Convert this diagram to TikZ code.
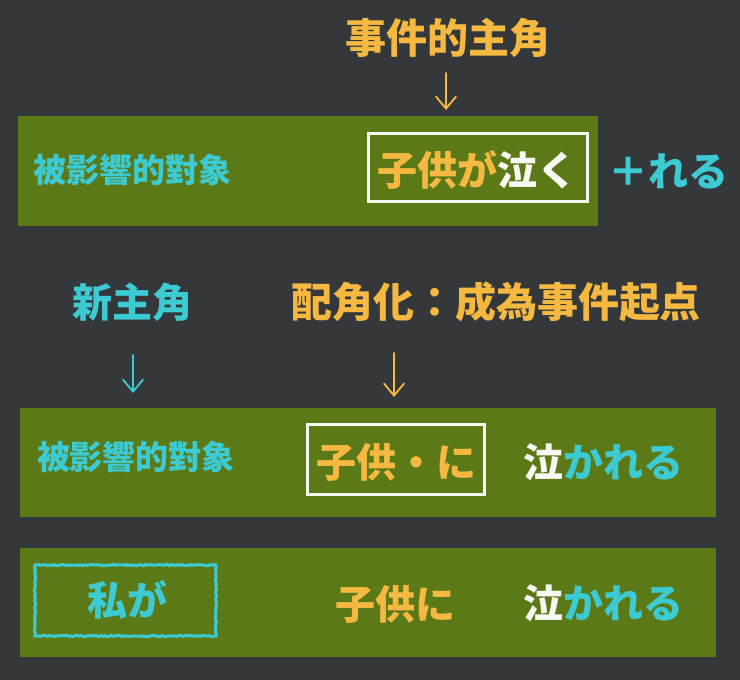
\documentclass[tikz,border=0pt]{standalone}
\usepackage{fontspec}
\setmainfont{Noto Sans CJK JP}
\usetikzlibrary{arrows.meta,decorations.pathmorphing}
\definecolor{bgc}{HTML}{34383B}
\definecolor{panelc}{HTML}{5B7A17}
\definecolor{cyanc}{HTML}{3CCBD3}
\definecolor{orangec}{HTML}{F5B942}
\definecolor{whitec}{HTML}{F8F8F2}
\tikzset{
  txt/.style={inner sep=0pt, font=\bfseries\fontsize{#1}{#1}\selectfont},
  panel/.style={fill=panelc, draw=none, inner sep=0pt, minimum width=#1},
  framebox/.style={draw=whitec, line width=3pt, inner sep=0pt},
  chalkbox/.style={draw=cyanc, line width=3pt, inner sep=0pt,
    decorate, decoration={random steps, segment length=2pt, amplitude=0.6pt}},
  arr/.style={line width=1.8pt, line cap=round, -{Straight Barb[length=12pt,width=20pt,line cap=round]}}
}
\begin{document}
\begin{tikzpicture}[x=1pt,y=-1pt]
\useasboundingbox[fill=bgc] (0,0) rectangle (740,680);
\pgfmathsetseed{7}
% panels
\node[panel=580pt, minimum height=110pt] (p1) at (308,171) {};
\node[panel=696pt, minimum height=109pt] (p2) at (368,462.5) {};
\node[panel=696pt, minimum height=109pt] (p3) at (368,602.5) {};
% frames
\node[framebox, minimum width=219pt, minimum height=68pt] (w1) at (477.5,167.5) {};
\node[framebox, minimum width=177pt, minimum height=70pt] (w2) at (395.5,459) {};
\node[chalkbox, minimum width=181pt, minimum height=71pt] (c3) at (125.5,600.5) {};
% row 1
\node[txt=41, text=orangec] (top) at (448,38) {事件的主角};
\node[txt=33, text=cyanc] (t1) at (133,170) {被影響的對象};
\node[txt=40] (k1) at (477,170) {\textcolor{orangec}{子供が}\textcolor{whitec}{泣く}};
\node[txt=40, text=cyanc] (plus) at (668,171) {＋れる};
\coordinate (a1s) at (446,73);
\coordinate (a1e) at (446,110);
\draw[arr, orangec] (a1s) -- (a1e);
% row 2
\node[txt=40, text=cyanc] (nm) at (132,302) {新主角};
\node[txt=41, text=orangec] (hs) at (496,302) {配角化：成為事件起点};
\coordinate (a2s) at (133,355);
\coordinate (a2e) at (133,393);
\coordinate (a3s) at (394,353);
\coordinate (a3e) at (394,397);
\draw[arr, cyanc] (a2s) -- (a2e);
\draw[arr, orangec] (a3s) -- (a3e);
\node[txt=33, text=cyanc] (t2) at (136,457) {被影響的對象};
\node[txt=40, text=orangec] (k2) at (396,462) {子供・に};
\node[txt=40] (v2) at (603,462) {\textcolor{whitec}{泣}\textcolor{cyanc}{かれる}};
% row 3
\node[txt=40, text=cyanc] (wa) at (127,600) {私が};
\node[txt=40, text=orangec] (k3) at (395,604) {子供に};
\node[txt=40] (v3) at (603,603) {\textcolor{whitec}{泣}\textcolor{cyanc}{かれる}};
\end{tikzpicture}
\end{document}
